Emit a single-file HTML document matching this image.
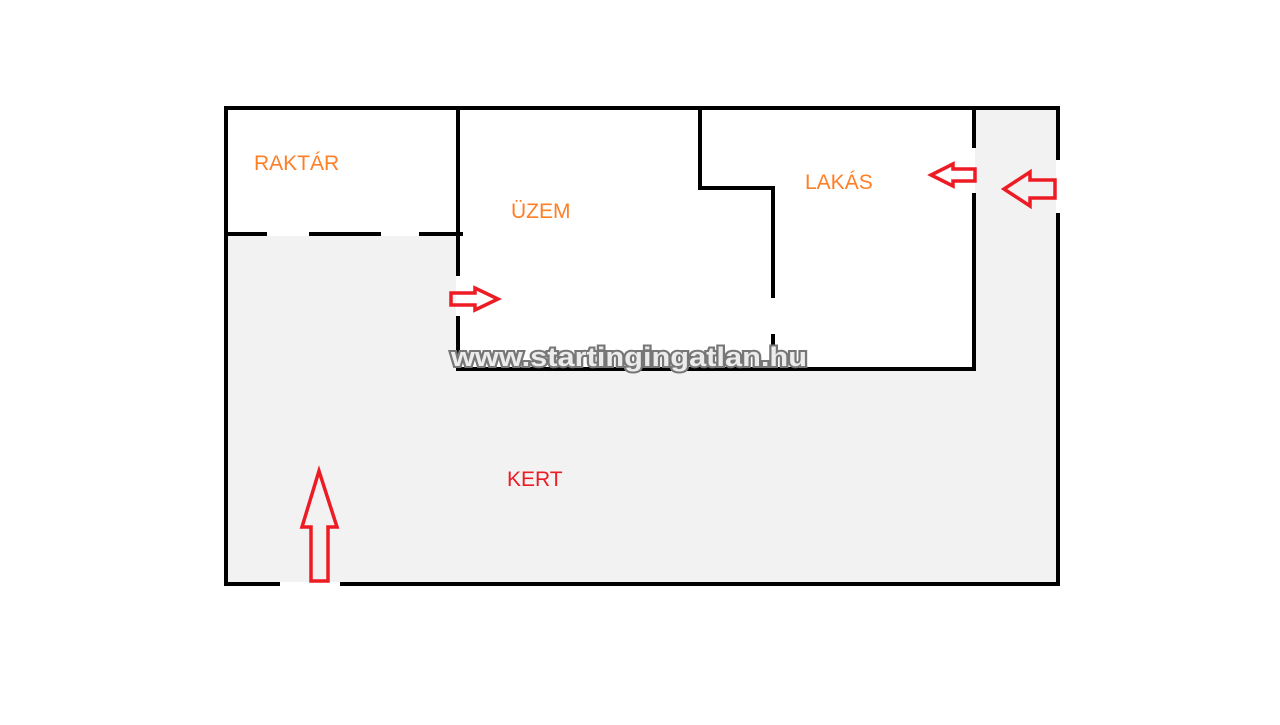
<!DOCTYPE html>
<html><head><meta charset="utf-8"><style>html,body{margin:0;padding:0;background:#fff}</style></head>
<body>
<svg width="1280" height="720" viewBox="0 0 1280 720" xmlns="http://www.w3.org/2000/svg">
<rect width="1280" height="720" fill="#fff"/>
<!-- grey garden -->
<path d="M228 236 H456 V371 H975 V110 H1056 V582 H228 Z" fill="#f2f2f2"/>
<g stroke="#000" stroke-width="4" fill="none" stroke-linecap="butt">
<!-- outer -->
<line x1="224" y1="108" x2="1060" y2="108"/>
<line x1="226" y1="106" x2="226" y2="586"/>
<line x1="224" y1="584" x2="280" y2="584"/>
<line x1="340" y1="584" x2="1060" y2="584"/>
<line x1="1058" y1="106" x2="1058" y2="160"/>
<line x1="1058" y1="213" x2="1058" y2="586"/>
<!-- raktar divider -->
<line x1="226" y1="234" x2="267" y2="234"/>
<line x1="309" y1="234" x2="381" y2="234"/>
<line x1="419" y1="234" x2="463" y2="234"/>
<!-- x=458 -->
<line x1="458" y1="108" x2="458" y2="276"/>
<line x1="458" y1="316" x2="458" y2="371"/>
<!-- bottom of uzem/lakas -->
<line x1="456" y1="369" x2="976" y2="369"/>
<!-- inner -->
<line x1="700" y1="108" x2="700" y2="190"/>
<line x1="698" y1="188" x2="775" y2="188"/>
<line x1="773" y1="186" x2="773" y2="298"/>
<line x1="773" y1="334" x2="773" y2="371"/>
<line x1="974" y1="108" x2="974" y2="148"/>
<line x1="974" y1="193" x2="974" y2="371"/>
</g>
<g stroke="#ed1c24" stroke-width="3.5" fill="none" stroke-linejoin="miter">
<path d="M319 471 L337 527 L328 527 L328 581 L311 581 L311 527 L302 527 Z"/>
<path d="M451 293 H475 V288 L498 299 L475 310 V305 H451 Z"/>
<path d="M975 169 H953 V164 L931 175 L953 186 V181 H975 Z"/>
<path d="M1055 180 H1030 V172 L1004 189 L1030 206 V198 H1055 Z"/>
</g>
<g font-family="Liberation Sans, sans-serif" font-size="21">
<text x="254" y="170" fill="#ff7f27">RAKTÁR</text>
<text x="511" y="218" fill="#ff7f27">ÜZEM</text>
<text x="805" y="189" fill="#ff7f27">LAKÁS</text>
<text x="507" y="486" fill="#ed1c24">KERT</text>
</g>
<text x="451" y="366" font-family="Liberation Sans, sans-serif" font-weight="bold" font-size="27" textLength="356" lengthAdjust="spacingAndGlyphs" fill="#ececec" stroke="#777" stroke-width="4" paint-order="stroke">www.startingingatlan.hu</text>
</svg>
</body></html>
